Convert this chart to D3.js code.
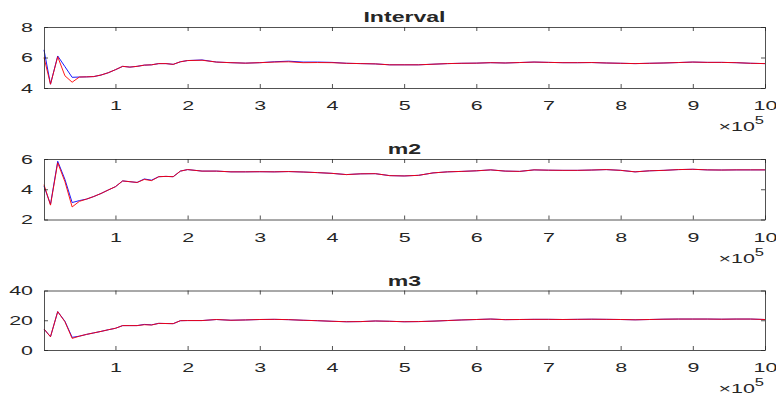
<!DOCTYPE html>
<html>
<head>
<meta charset="utf-8">
<script src="https://cdn.jsdelivr.net/npm/d3@7"></script>
<style>
  html, body { margin: 0; padding: 0; background: #fff; }
  svg text { font-family: "Liberation Sans", Arial, sans-serif; fill: #262626; }
</style>
</head>
<body>
<div id="chart"></div>
<script>
// x positions in units of 1e5
const xVals = [0.01, 0.1, 0.2, 0.3, 0.4, 0.5, 0.6, 0.7, 0.8, 0.9,
  1.0, 1.1, 1.2, 1.3, 1.4, 1.5, 1.6, 1.7, 1.8, 1.9, 2.0,
  2.2, 2.4, 2.6, 2.8, 3.0, 3.2, 3.4, 3.6, 3.8, 4.0,
  4.2, 4.4, 4.6, 4.8, 5.0, 5.2, 5.4, 5.6, 5.8, 6.0,
  6.2, 6.4, 6.6, 6.8, 7.0, 7.2, 7.4, 7.6, 7.8, 8.0,
  8.2, 8.4, 8.6, 8.8, 9.0, 9.2, 9.4, 9.6, 9.8, 10.0];

const intervalBlue = [6.5, 4.25, 6.1, 5.4, 4.7, 4.72, 4.73, 4.75, 4.85, 5.0,
  5.2, 5.42, 5.37, 5.42, 5.5, 5.52, 5.6, 5.6, 5.55, 5.72, 5.8,
  5.84, 5.7, 5.66, 5.63, 5.66, 5.72, 5.76, 5.7, 5.7, 5.68,
  5.62, 5.6, 5.58, 5.52, 5.52, 5.52, 5.56, 5.6, 5.62, 5.63,
  5.66, 5.64, 5.67, 5.7, 5.68, 5.66, 5.66, 5.67, 5.64, 5.62,
  5.6, 5.62, 5.64, 5.67, 5.7, 5.68, 5.68, 5.66, 5.62, 5.6];
const intervalRed = [6.0, 4.25, 6.05, 4.8, 4.38, 4.72, 4.73, 4.75, 4.85, 5.0,
  5.2, 5.42, 5.37, 5.42, 5.5, 5.52, 5.6, 5.6, 5.55, 5.72, 5.8,
  5.82, 5.7, 5.66, 5.63, 5.66, 5.7, 5.72, 5.66, 5.67, 5.66,
  5.62, 5.6, 5.58, 5.52, 5.52, 5.52, 5.56, 5.6, 5.62, 5.63,
  5.66, 5.64, 5.67, 5.7, 5.68, 5.66, 5.66, 5.67, 5.64, 5.62,
  5.6, 5.62, 5.64, 5.67, 5.7, 5.68, 5.68, 5.66, 5.62, 5.6];

const m2Blue = [4.2, 3.0, 5.85, 4.65, 3.12, 3.25, 3.35, 3.52, 3.72, 3.95,
  4.17, 4.55, 4.5, 4.45, 4.68, 4.6, 4.83, 4.85, 4.83, 5.2, 5.3,
  5.2, 5.2, 5.15, 5.15, 5.16, 5.15, 5.17, 5.14, 5.1, 5.05,
  4.97, 5.02, 5.03, 4.9, 4.88, 4.92, 5.08, 5.15, 5.18, 5.22,
  5.28, 5.2, 5.18, 5.28, 5.26, 5.25, 5.25, 5.27, 5.3, 5.25,
  5.15, 5.22, 5.25, 5.3, 5.32, 5.28, 5.27, 5.28, 5.28, 5.28];
const m2Red = [4.3, 2.95, 5.75, 4.5, 2.83, 3.2, 3.35, 3.52, 3.72, 3.95,
  4.17, 4.55, 4.5, 4.45, 4.65, 4.57, 4.83, 4.85, 4.83, 5.2, 5.3,
  5.2, 5.2, 5.15, 5.15, 5.16, 5.15, 5.17, 5.14, 5.1, 5.05,
  4.97, 5.02, 5.03, 4.9, 4.88, 4.92, 5.08, 5.15, 5.18, 5.22,
  5.28, 5.2, 5.18, 5.28, 5.26, 5.25, 5.25, 5.27, 5.3, 5.25,
  5.15, 5.22, 5.25, 5.3, 5.32, 5.28, 5.27, 5.28, 5.28, 5.28];

const m3Blue = [14.1, 8.9, 25.8, 19.3, 8.5, 9.3, 10.5, 11.5, 12.5, 13.6,
  14.6, 16.4, 16.4, 16.4, 17.2, 16.9, 17.9, 17.8, 17.7, 19.7, 19.8,
  19.8, 20.5, 20.0, 20.2, 20.5, 20.6, 20.4, 20.0, 19.7, 19.3,
  19.0, 19.1, 19.5, 19.3, 19.0, 19.1, 19.4, 19.8, 20.2, 20.5,
  20.8, 20.4, 20.5, 20.6, 20.6, 20.5, 20.6, 20.7, 20.6, 20.5,
  20.3, 20.5, 20.7, 20.8, 20.8, 20.8, 20.7, 20.8, 20.8, 20.5];
const m3Red = [14.1, 8.9, 25.8, 19.0, 7.8, 9.3, 10.5, 11.5, 12.5, 13.6,
  14.6, 16.4, 16.4, 16.4, 17.0, 16.8, 17.9, 17.8, 17.7, 19.7, 19.8,
  19.8, 20.5, 20.0, 20.2, 20.5, 20.6, 20.4, 20.0, 19.7, 19.3,
  19.0, 19.1, 19.5, 19.3, 19.0, 19.1, 19.4, 19.8, 20.2, 20.5,
  20.8, 20.4, 20.5, 20.6, 20.6, 20.5, 20.6, 20.7, 20.6, 20.5,
  20.3, 20.5, 20.7, 20.8, 20.8, 20.8, 20.7, 20.8, 20.8, 20.5];

const titles = ["Interval", "m2", "m3"];
const xTicks = [1, 2, 3, 4, 5, 6, 7, 8, 9, 10];
const yDomains = [[4, 8], [2, 6], [0, 40]];
const yTicks = [[4, 6, 8], [2, 4, 6], [0, 20, 40]];

const width = 776;
const height = 396;
const left = 44, right = 765;
const tops = [27, 159, 290.5];
const bottoms = [88, 219.5, 350];
const sx = 1.65;          // the picture is stretched horizontally
const axisColor = "#262626";

const svg = d3.select("#chart").append("svg")
  .attr("width", width)
  .attr("height", height);

const x = d3.scaleLinear().domain([0.01, 10]).range([left, right]);

const panels = [
  { blue: intervalBlue, red: intervalRed },
  { blue: m2Blue, red: m2Red },
  { blue: m3Blue, red: m3Red }
];

function styleAxis(g) {
  g.attr("font-size", null).attr("font-family", null);
  g.select(".domain").attr("stroke", axisColor).attr("stroke-width", 0.8);
  g.selectAll(".tick line").attr("stroke", axisColor).attr("stroke-width", 0.8);
  g.selectAll(".tick text")
    .style("font-size", "13px")
    .attr("fill", axisColor)
    .attr("transform", `scale(${sx},1)`);
}

panels.forEach((p, i) => {
  const top = tops[i], bottom = bottoms[i];
  const y = d3.scaleLinear().domain(yDomains[i]).range([bottom, top]);

  const line = d3.line()
    .x((d, k) => x(xVals[k]))
    .y(d => y(d));

  const g = svg.append("g");

  g.append("path")
    .datum(p.blue)
    .attr("fill", "none")
    .attr("stroke", "#0000ff")
    .attr("stroke-width", 0.9)
    .attr("d", line);

  g.append("path")
    .datum(p.red)
    .attr("fill", "none")
    .attr("stroke", "#ff0000")
    .attr("stroke-width", 0.9)
    .attr("d", line);

  // bottom axis with labels
  g.append("g")
    .attr("transform", `translate(0,${bottom})`)
    .call(d3.axisBottom(x).tickValues(xTicks).tickFormat(d3.format("d"))
      .tickSizeInner(-4).tickSizeOuter(0).tickPadding(13))
    .call(styleAxis);

  // top axis, ticks only
  g.append("g")
    .attr("transform", `translate(0,${top})`)
    .call(d3.axisTop(x).tickValues(xTicks).tickFormat("").tickSizeInner(-4).tickSizeOuter(0))
    .call(styleAxis);

  // left axis
  g.append("g")
    .attr("transform", `translate(${left},0)`)
    .call(d3.axisLeft(y).tickValues(yTicks[i]).tickFormat(d3.format("d"))
      .tickSizeInner(-4).tickSizeOuter(0).tickPadding(11 / sx))
    .call(styleAxis);

  // right axis, ticks only
  g.append("g")
    .attr("transform", `translate(${right},0)`)
    .call(d3.axisRight(y).tickValues(yTicks[i]).tickFormat("").tickSizeInner(-4).tickSizeOuter(0))
    .call(styleAxis);

  // title
  g.append("text")
    .attr("transform", `translate(${(left + right) / 2},${top - 5}) scale(${sx},1)`)
    .attr("text-anchor", "middle")
    .style("font-size", "14px")
    .style("font-weight", "bold")
    .attr("fill", "#000")
    .text(titles[i]);

  // exponent label
  const ex = g.append("text")
    .attr("transform", `translate(${right - 1},${bottom + 43}) scale(${sx},1)`)
    .attr("text-anchor", "end")
    .style("font-size", "13px");
  ex.append("tspan").text("\u00d710");
  ex.append("tspan")
    .attr("dy", -7)
    .style("font-size", "10px")
    .text("5");
});
</script>
</body>
</html>
